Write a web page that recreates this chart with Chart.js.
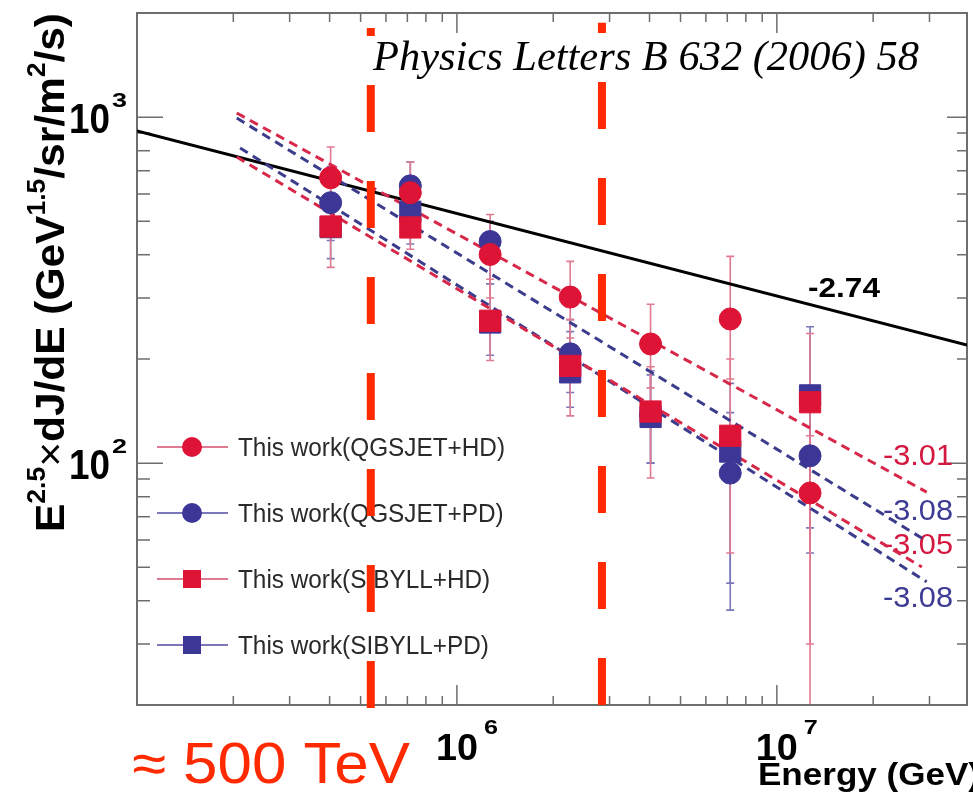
<!DOCTYPE html>
<html>
<head>
<meta charset="UTF-8">
<title>E2.5 x dJ/dE spectrum</title>
<script src="https://cdn.jsdelivr.net/npm/chart.js"></script>
<style>
  html, body { margin: 0; padding: 0; background: #fff; overflow: hidden; }
  #wrap { width: 973px; height: 803px; position: relative; }
</style>
</head>
<body>
<div id="wrap"><canvas id="spec"></canvas></div>
<script>
// ---- data ----
const energy = [4.03e5, 7.15e5, 1.27e6, 2.26e6, 4.03e6, 7.15e6, 1.27e7];

const qgsHD = [668, 605, 401, 302, 221, 261, 82];
const qgsHDHi = [820, 742, 523, 383, 288, 396, 120];
const qgsHDLo = [540, 500, 300, 230, 165, 175, 15];

const qgsPD = [566, 633, 437, 207, 138, 93.6, 105];
const qgsPDHi = [720, 742, 500, 260, 180, 140, 160];
const qgsPDLo = [440, 500, 330, 160, 100, 37.6, 55];

const sibHD = [483, 480, 258, 191, 141, 120, 150];
const sibHDHi = [600, 560, 340, 260, 190, 200, 237];
const sibHDLo = [368, 415, 198, 137, 90.6, 55, 30];

const sibPD = [481, 533, 255, 183, 136, 108, 157];
const sibPDHi = [597, 660, 330, 240, 185, 170, 248];
const sibPDLo = [390, 430, 205, 145, 100, 45, 65];

// fitted power laws (end points)
const fitQgsHDx = [2.05e5, 2.94e7], fitQgsHDy = [1028, 82.5];   // -3.01
const fitQgsPDx = [2.05e5, 2.90e7], fitQgsPDy = [994, 60.0];    // -3.08
const fitSibHDx = [2.05e5, 2.84e7], fitSibHDy = [767, 50.1];    // -3.05
const fitSibPDx = [2.10e5, 2.94e7], fitSibPDy = [815, 45.4];    // -3.08
const kneeX = [1e5, 3.93e7], kneeY = [912, 219.5];              // -2.74

// vertical marker lines (≈500 TeV and second cut)
const cutX = [5.38e5, 2.84e6];
const cutLo = [19.6, 20];
const cutHi = [1810, 1874];

const xMin = 1e5, xMax = 3.93e7, yMin = 20, yMax = 2000;
const xLabels = [1e6, 1e7];
const xLabelText = ['6', '7'];
const yLabels = [1000, 100];
const yLabelText = ['3', '2'];

const RED = '#de1437', BLUE = '#3c3796';
const SANS = '"Liberation Sans", Arial, sans-serif';

function pts(xs, ys) { return xs.map((x, i) => ({ x: x, y: ys[i] })); }

function ticksFor(lo, hi) {
  const out = [];
  for (let d = Math.floor(Math.log10(lo)); d <= Math.ceil(Math.log10(hi)); d++) {
    for (let m = 1; m <= 9; m++) {
      const v = m * Math.pow(10, d);
      if (v > lo * 1.0001 && v < hi * 0.9999) out.push({ v: v, major: m === 1 });
    }
  }
  return out;
}

function fitText(ctx, str, x, yBase, font, color, width) {
  ctx.save();
  ctx.font = font;
  ctx.fillStyle = color;
  ctx.textAlign = 'left';
  ctx.textBaseline = 'alphabetic';
  const w = ctx.measureText(str).width;
  ctx.translate(x, yBase);
  ctx.scale(width / w, 1);
  ctx.fillText(str, 0, 0);
  ctx.restore();
}

const legendRows = [
  { label: 'This work(QGSJET+HD)', color: RED, line: '#e07a90', shape: 'circle', y: 447 },
  { label: 'This work(QGSJET+PD)', color: BLUE, line: '#7a78b8', shape: 'circle', y: 513 },
  { label: 'This work(SIBYLL+HD)', color: RED, line: '#e07a90', shape: 'rect', y: 579 },
  { label: 'This work(SIBYLL+PD)', color: BLUE, line: '#7a78b8', shape: 'rect', y: 645 }
];

const slopeLabels = [
  { t: '-2.74', x: 808, y: 297, w: 72, color: '#000', font: 'bold 28px ' + SANS },
  { t: '-3.01', x: 883, y: 465, w: 70, color: '#d4173f', font: '29px ' + SANS },
  { t: '-3.08', x: 883, y: 520, w: 70, color: '#3d3b94', font: '29px ' + SANS },
  { t: '-3.05', x: 883, y: 554, w: 70, color: '#d4173f', font: '29px ' + SANS },
  { t: '-3.08', x: 883, y: 607, w: 70, color: '#3d3b94', font: '29px ' + SANS }
];

const framePlugin = {
  id: 'frame',
  beforeDatasetsDraw(chart) {
    const { ctx, chartArea: a, scales: { x, y } } = chart;
    ctx.save();
    // error bars (under markers)
    ctx.beginPath();
    ctx.rect(a.left, a.top, a.right - a.left, a.bottom - a.top);
    ctx.clip();
    chart.data.datasets.slice().reverse().forEach(ds => {
      if (!ds.errHi) return;
      ctx.strokeStyle = ds.errColor;
      ctx.lineWidth = 1.6;
      ds.data.forEach((p, i) => {
        const px = x.getPixelForValue(p.x);
        const t = y.getPixelForValue(ds.errHi[i]);
        const b = y.getPixelForValue(ds.errLo[i]);
        ctx.beginPath();
        ctx.moveTo(px, t); ctx.lineTo(px, b);
        ctx.moveTo(px - 4, t); ctx.lineTo(px + 4, t);
        ctx.moveTo(px - 4, b); ctx.lineTo(px + 4, b);
        ctx.stroke();
      });
    });
    ctx.restore();

    ctx.save();
    // frame
    ctx.strokeStyle = '#6e6e6e';
    ctx.lineWidth = 2;
    ctx.strokeRect(a.left, a.top, a.right - a.left, a.bottom - a.top);
    ctx.lineWidth = 1.5;
    ctx.beginPath();
    ticksFor(xMin, xMax).forEach(t => {
      const px = x.getPixelForValue(t.v);
      const L = t.major ? 20 : 9;
      ctx.moveTo(px, a.bottom); ctx.lineTo(px, a.bottom - L);
      ctx.moveTo(px, a.top); ctx.lineTo(px, a.top + L);
    });
    ticksFor(yMin, yMax).forEach(t => {
      const py = y.getPixelForValue(t.v);
      ctx.moveTo(a.left, py); ctx.lineTo(a.left + (t.major ? 26 : 13), py);
      ctx.moveTo(a.right, py); ctx.lineTo(a.right - (t.major ? 20 : 10), py);
    });
    ctx.stroke();
    ctx.restore();

    // tick labels
    xLabels.forEach((v, i) => {
      const px = x.getPixelForValue(v);
      fitText(ctx, '10', px - 21, 760, 'bold 37px ' + SANS, '#000', 42);
      fitText(ctx, xLabelText[i], px + 27, 734, 'bold 20px ' + SANS, '#000', 14);
    });
    yLabels.forEach((v, i) => {
      const py = y.getPixelForValue(v);
      fitText(ctx, '10', a.left - 68, py + 16, 'bold 43px ' + SANS, '#000', 41);
      fitText(ctx, yLabelText[i], a.left - 25, py - 10, 'bold 21px ' + SANS, '#000', 15);
    });

    // axis titles
    fitText(ctx, 'Energy (GeV)', 758, 785, 'bold 31px ' + SANS, '#000', 222);
    const runs = [
      { t: 'E', f: 'bold 40px ' + SANS, dy: 0 },
      { t: '2.5', f: 'bold 25px ' + SANS, dy: -19 },
      { t: '\u00d7', f: '40px ' + SANS, dy: 0 },
      { t: 'dJ/dE (GeV', f: 'bold 40px ' + SANS, dy: 0 },
      { t: '1.5', f: 'bold 25px ' + SANS, dy: -19 },
      { t: '/sr/m', f: 'bold 40px ' + SANS, dy: 0 },
      { t: '2', f: 'bold 25px ' + SANS, dy: -19 },
      { t: '/s)', f: 'bold 40px ' + SANS, dy: 0 }
    ];
    ctx.save();
    let total = 0;
    runs.forEach(r => { ctx.font = r.f; r.w = ctx.measureText(r.t).width; total += r.w; });
    ctx.translate(64, 532);
    ctx.rotate(-Math.PI / 2);
    ctx.scale(519 / total, 1);
    ctx.fillStyle = '#000';
    let cx = 0;
    runs.forEach(r => { ctx.font = r.f; ctx.fillText(r.t, cx, r.dy); cx += r.w; });
    ctx.restore();

    // annotations
    fitText(ctx, 'Physics Letters B 632 (2006) 58', 373, 70, 'italic 42px "Liberation Serif", "Times New Roman", serif', '#000', 546);
    fitText(ctx, '\u2248 500 TeV', 132, 783, '57px ' + SANS, '#ff2a00', 278);
    slopeLabels.forEach(s => fitText(ctx, s.t, s.x, s.y, s.font, s.color, s.w));

    // legend
    ctx.save();
    ctx.font = '25px ' + SANS;
    const lScale = 267 / ctx.measureText(legendRows[0].label).width;
    ctx.restore();
    legendRows.forEach(r => {
      ctx.save();
      ctx.strokeStyle = r.line;
      ctx.lineWidth = 2;
      ctx.beginPath(); ctx.moveTo(157, r.y); ctx.lineTo(228, r.y); ctx.stroke();
      ctx.fillStyle = r.color;
      ctx.beginPath();
      if (r.shape === 'circle') ctx.arc(192, r.y, 10, 0, Math.PI * 2);
      else ctx.rect(183, r.y - 9, 18, 18);
      ctx.fill();
      ctx.font = '25px ' + SANS;
      ctx.fillStyle = '#2a2a2a';
      ctx.translate(238, r.y + 9);
      ctx.scale(lScale, 1);
      ctx.fillText(r.label, 0, 0);
      ctx.restore();
    });
  }
};

function fitLine(xs, ys, color, order) {
  return { data: pts(xs, ys), showLine: true, pointRadius: 0, borderColor: color,
           borderWidth: 3, borderDash: [9, 6], order: order };
}
function markers(ys, hi, lo, color, errColor, shape, r, order) {
  return { data: pts(energy, ys), errHi: hi, errLo: lo, errColor: errColor,
           pointStyle: shape, pointRadius: r, backgroundColor: color, borderColor: color,
           borderWidth: 1, showLine: false, order: order };
}

const datasets = [
  // cut lines on top
  ...cutX.map((cx, i) => ({ data: [{ x: cx, y: cutLo[i] }, { x: cx, y: cutHi[i] }], showLine: true,
      pointRadius: 0, borderColor: '#ff2a00', borderWidth: 8, borderDash: [47, 49],
      borderCapStyle: 'butt', clip: false, order: 0 })),
  markers(qgsHD, qgsHDHi, qgsHDLo, RED, '#e07a90', 'circle', 11, 1),
  markers(sibHD, sibHDHi, sibHDLo, RED, '#e07a90', 'rect', 15, 2),
  markers(qgsPD, qgsPDHi, qgsPDLo, BLUE, '#7a78b8', 'circle', 11, 3),
  markers(sibPD, sibPDHi, sibPDLo, BLUE, '#7a78b8', 'rect', 15, 4),
  fitLine(fitQgsHDx, fitQgsHDy, '#d8284a', 5),
  fitLine(fitSibHDx, fitSibHDy, '#d8284a', 6),
  fitLine(fitQgsPDx, fitQgsPDy, '#3c3c8c', 7),
  fitLine(fitSibPDx, fitSibPDy, '#3c3c8c', 8),
  { data: pts(kneeX, kneeY), showLine: true, pointRadius: 0, borderColor: '#000', borderWidth: 3, order: 9 }
];

new Chart(document.getElementById('spec'), {
  type: 'scatter',
  data: { datasets: datasets },
  options: {
    responsive: true,
    maintainAspectRatio: false,
    animation: false,
    events: [],
    layout: { autoPadding: false, padding: { left: 137, right: 6, top: 13, bottom: 98 } },
    scales: {
      x: { type: 'logarithmic', min: xMin, max: xMax, display: false },
      y: { type: 'logarithmic', min: yMin, max: yMax, display: false }
    },
    plugins: { legend: { display: false }, tooltip: { enabled: false } }
  },
  plugins: [framePlugin]
});
</script>
</body>
</html>
